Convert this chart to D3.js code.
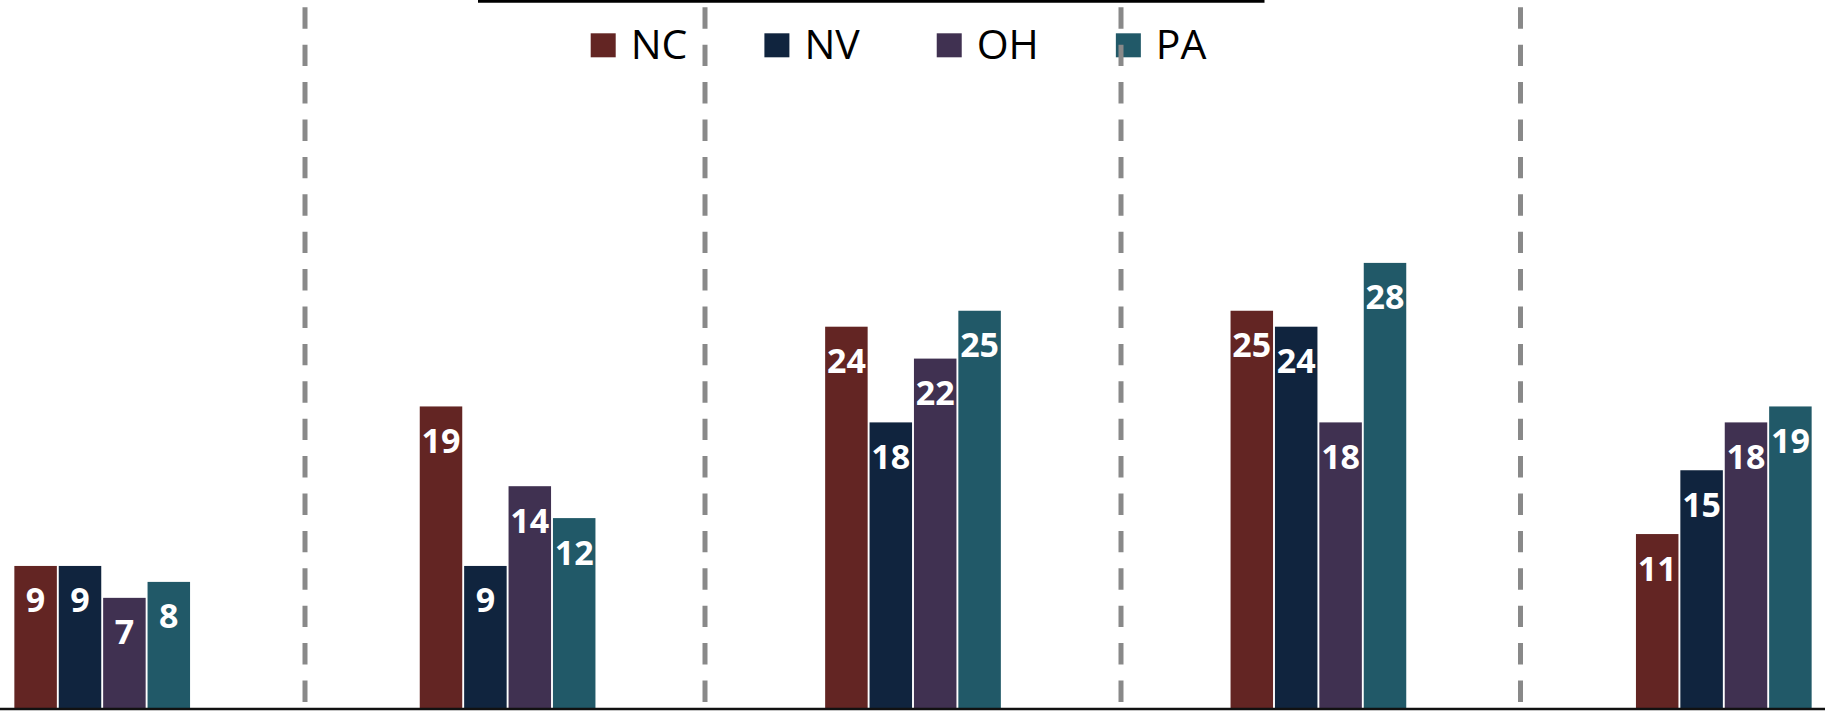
<!DOCTYPE html>
<html>
<head>
<meta charset="utf-8">
<script src="https://cdn.jsdelivr.net/npm/d3@7"></script>
<style>
  html, body { margin: 0; padding: 0; background: #fff; }
  svg { display: block; }
</style>
</head>
<body>
<svg id="chart" width="1825" height="714"></svg>
<script>
// ---- Data ----
const categories = ["Group 1", "Group 2", "Group 3", "Group 4", "Group 5"];
const series = ["NC", "NV", "OH", "PA"];
const ncValues = [9, 19, 24, 25, 11];
const nvValues = [9, 9, 18, 24, 15];
const ohValues = [7, 14, 22, 18, 18];
const paValues = [8, 12, 25, 28, 19];
const seriesColors = ["#632523", "#10243e", "#403151", "#215968"];

// ---- Layout ----
const W = 1825, H = 714;
const svg = d3.select("#chart");

const valuesBySeries = { NC: ncValues, NV: nvValues, OH: ohValues, PA: paValues };
const rows = categories.map((c, i) => ({
  category: c,
  values: series.map(s => ({ series: s, value: valuesBySeries[s][i] }))
}));

const x0 = d3.scaleBand().domain(categories).range([-100.5, 1926.5]).padding(0);
const clusterWidth = 175.7;
const clusterOffset = (x0.bandwidth() - clusterWidth) / 2;
const x1 = d3.scaleBand().domain(series)
  .range([clusterOffset, clusterOffset + clusterWidth])
  .paddingInner(0.0428).paddingOuter(0);
const y = d3.scaleLinear().domain([0, 30]).range([709.5, 709.5 - 30 * 15.95]);
const color = d3.scaleOrdinal().domain(series).range(seriesColors);

// ---- Bars ----
const groups = svg.append("g").selectAll("g")
  .data(rows).join("g")
  .attr("transform", d => `translate(${x0(d.category)},0)`);

groups.selectAll("rect")
  .data(d => d.values).join("rect")
  .attr("x", d => x1(d.series))
  .attr("y", d => y(d.value))
  .attr("width", x1.bandwidth())
  .attr("height", d => y(0) - y(d.value))
  .attr("fill", d => color(d.series));

groups.selectAll("text")
  .data(d => d.values).join("text")
  .attr("x", d => x1(d.series) + x1.bandwidth() / 2)
  .attr("y", d => y(d.value) + 46.5)
  .attr("text-anchor", "middle")
  .attr("font-family", "'Open Sans', 'Noto Sans', sans-serif")
  .attr("font-weight", 700)
  .attr("font-size", 34)
  .attr("fill", "#ffffff")
  .text(d => d.value);

// ---- Axis baseline ----
const xAxis = d3.axisBottom(x0).tickSize(0).tickFormat("");
const axisG = svg.append("g").attr("transform", `translate(0,${y(0) - 0.5})`).call(xAxis);
axisG.select(".domain").remove();
svg.append("line")
  .attr("x1", 0).attr("x2", W)
  .attr("y1", 709).attr("y2", 709)
  .attr("stroke", "#111").attr("stroke-width", 2.4);

// ---- Top border line (legend frame remnant) ----
svg.append("line")
  .attr("x1", 478).attr("x2", 1264.5)
  .attr("y1", 1.3).attr("y2", 1.3)
  .attr("stroke", "#000").attr("stroke-width", 2.7);

// ---- Legend ----
const legend = svg.append("g");
let lx = 590.7;
series.forEach((s, i) => {
  legend.append("rect")
    .attr("x", lx).attr("y", 33.3)
    .attr("width", 25).attr("height", 24)
    .attr("fill", color(s));
  const t = legend.append("text")
    .attr("x", lx + 40).attr("y", 59.3)
    .attr("font-family", "'Open Sans', 'Noto Sans', sans-serif")
    .attr("font-size", 41)
    .attr("fill", "#000")
    .text(s);
  const w = t.node().getComputedTextLength();
  lx = lx + 40 + w + 77;
});

// ---- Dashed separators ----
const separatorX = [305, 705, 1121, 1520.5];
svg.append("g").selectAll("line")
  .data(separatorX).join("line")
  .attr("x1", d => d).attr("x2", d => d)
  .attr("y1", 7.3).attr("y2", 702)
  .attr("stroke", "#898989")
  .attr("stroke-width", 5)
  .attr("stroke-dasharray", "21.4 16");
</script>
</body>
</html>
